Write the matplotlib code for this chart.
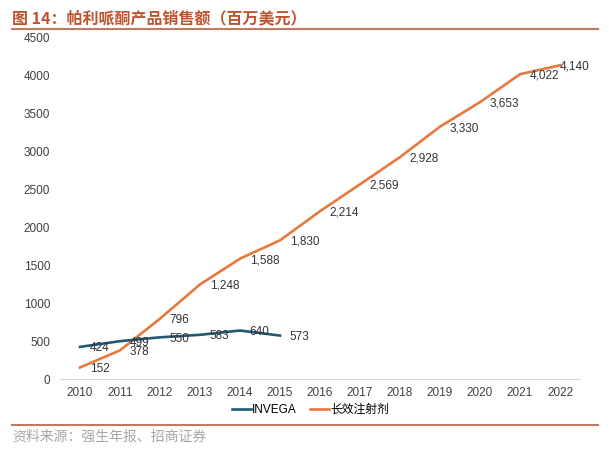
import matplotlib.pyplot as plt
from matplotlib.lines import Line2D

plt.rcParams["font.family"] = ["Liberation Sans", "Noto Sans CJK SC", "DejaVu Sans"]

years = [str(y) for y in range(2010, 2023)]
invega = [424, 499, 550, 583, 640, 573]
lai = [152, 378, 796, 1248, 1588, 1830, 2214, 2569, 2928, 3330, 3653, 4022, 4140]

INVEGA_COLOR = "#1f5a73"
LAI_COLOR = "#e8793c"
TITLE_COLOR = "#c0532f"
RULE_COLOR = "#c07a5e"

fig = plt.figure(figsize=(6.09, 4.55), dpi=100)
ax = fig.add_axes([60 / 609, 1 - 379 / 455, 520 / 609, 341 / 455])

x_inv = list(range(len(invega)))
x_lai = list(range(len(lai)))
ax.plot(x_inv, invega, color=INVEGA_COLOR, linewidth=1.9, zorder=3)
ax.plot(x_lai, lai, color=LAI_COLOR, linewidth=1.9, zorder=2)

for x, v in zip(x_inv, invega):
    ax.annotate(f"{v:,}", (x, v), xytext=(7, -1), textcoords="offset points",
                ha="left", va="center", fontsize=8.5, color="#333333")
for x, v in zip(x_lai, lai):
    dx = 0 if x == x_lai[-1] else 7
    ax.annotate(f"{v:,}", (x, v), xytext=(dx, -1), textcoords="offset points",
                ha="left", va="center", fontsize=8.5, color="#333333")

ax.set_xlim(-0.5, len(years) - 0.5)
ax.set_ylim(0, 4500)
ax.set_yticks(range(0, 4501, 500))
ax.set_xticks(x_lai)
ax.set_xticklabels(years)
ax.tick_params(axis="both", length=0, labelsize=8.5, colors="#404040")
ax.tick_params(axis="x", pad=6)
ax.tick_params(axis="y", pad=7)
for side in ["top", "right", "left"]:
    ax.spines[side].set_visible(False)
ax.spines["bottom"].set_color("#d9d9d9")

handles = [Line2D([], [], color=INVEGA_COLOR, linewidth=1.9),
           Line2D([], [], color=LAI_COLOR, linewidth=1.9)]
fig.legend(handles, ["INVEGA", "长效注射剂"], loc="center", bbox_to_anchor=(0.51, 1 - 410 / 455),
           ncol=2, frameon=False, fontsize=8.5, handlelength=1.6, columnspacing=1.1,
           handletextpad=0.1)

fig.text(12 / 609, 1 - 18 / 455, "图 14：帕利哌酮产品销售额（百万美元）", fontsize=11.5,
         fontweight="bold", color=TITLE_COLOR, va="center", ha="left",
         family=["Noto Sans CJK SC", "DejaVu Sans"])
fig.add_artist(Line2D([12 / 609, 598 / 609], [1 - 29 / 455, 1 - 29 / 455],
                      color=RULE_COLOR, linewidth=1.5))
fig.add_artist(Line2D([12 / 609, 598 / 609], [1 - 425 / 455, 1 - 425 / 455],
                      color=RULE_COLOR, linewidth=1.5))
fig.text(12 / 609, 1 - 437 / 455, "资料来源：强生年报、招商证券", fontsize=10,
         color="#a6a6a6", va="center", ha="left",
         family=["Noto Sans CJK SC", "DejaVu Sans"])

fig.savefig("out.png", dpi=100)
